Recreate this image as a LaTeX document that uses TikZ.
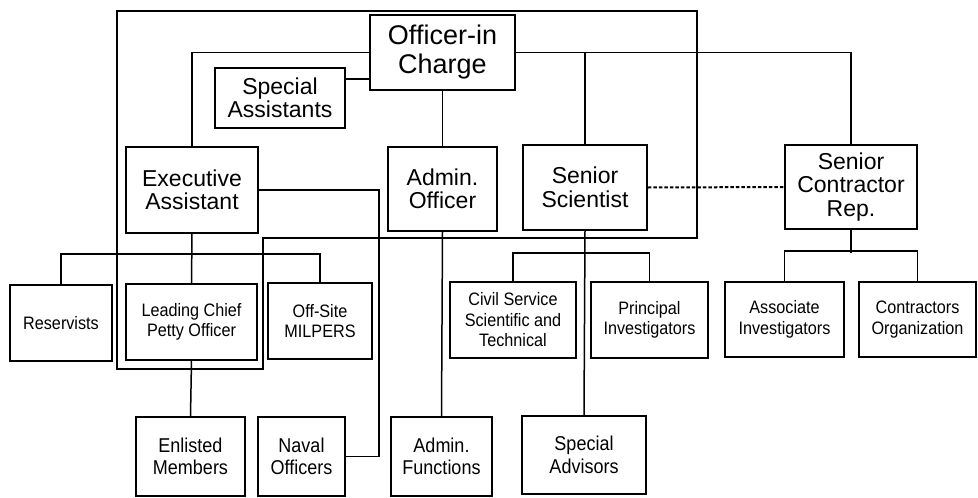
\documentclass[tikz,border=0pt]{standalone}
\usepackage{fontspec}
\setmainfont{Liberation Sans}
\newfontfamily\narrowf{Liberation Sans}[FakeStretch=0.9]
\begin{document}
\begin{tikzpicture}[x=1pt,y=-1pt,
  box/.style={draw, line width=1.6pt, inner sep=0pt, align=center},
  big/.style={font=\fontsize{27}{29}\selectfont},
  mid/.style={font=\fontsize{23}{23.5}\selectfont},
  sml/.style={font=\narrowf\fontsize{18}{20.5}\selectfont},
  bot/.style={font=\narrowf\fontsize{20}{22.5}\selectfont},
  conn/.style={line width=1.5pt},
  dotconn/.style={line width=2pt, dash pattern=on 3.5pt off 2pt}]
\useasboundingbox (0,0) rectangle (978,498);
% nodes
\node[box,big,minimum width=145pt,minimum height=75pt] (oic) at (442.5,52.5) {Officer-in\\Charge};
\node[box,mid,minimum width=130pt,minimum height=60pt] (sa) at (280,98) {Special\\Assistants};
\node[box,mid,minimum width=132pt,minimum height=86pt] (ea) at (192,190) {Executive\\Assistant};
\node[box,mid,minimum width=109pt,minimum height=84pt] (ao) at (442.5,189) {Admin.\\Officer};
\node[box,mid,minimum width=124pt,minimum height=85pt] (ss) at (585,187.5) {Senior\\Scientist};
\node[box,mid,minimum width=132pt,minimum height=84pt] (scr) at (851,187) {Senior\\Contractor\\Rep.};
\node[box,sml,minimum width=102pt,minimum height=76pt] (res) at (61,323) {Reservists};
\node[box,sml,minimum width=131pt,minimum height=76pt] (lcpo) at (191.5,322) {Leading Chief\\Petty Officer};
\node[box,sml,minimum width=104pt,minimum height=76pt] (mil) at (320,321) {Off-Site\\MILPERS};
\node[box,sml,minimum width=126pt,minimum height=76pt] (civ) at (513,320) {Civil Service\\Scientific and\\Technical};
\node[box,sml,minimum width=117pt,minimum height=76pt] (pi) at (649.5,320) {Principal\\Investigators};
\node[box,sml,minimum width=119pt,minimum height=75pt] (ai) at (784.5,319.5) {Associate\\Investigators};
\node[box,sml,minimum width=117pt,minimum height=75pt] (co) at (917.5,319.5) {Contractors\\Organization};
\node[box,bot,minimum width=109pt,minimum height=79pt] (em) at (190.5,456.5) {Enlisted\\Members};
\node[box,bot,minimum width=87pt,minimum height=79pt] (no) at (301.5,456.5) {Naval\\Officers};
\node[box,bot,minimum width=101pt,minimum height=79pt] (af) at (441.5,456.5) {Admin.\\Functions};
\node[box,bot,minimum width=124pt,minimum height=78pt] (sad) at (584,455) {Special\\Advisors};
% frame
\draw[conn] (117,11) -- (697,11) -- (697,238) -- (263,238) -- (263,369) -- (117,369) -- cycle;
% connectors
\draw[conn] (oic.west) -| (ea.north);
\draw[conn] (sa.east |- 0,79) -- (oic.west |- 0,79);
\draw[conn] (oic.south) -- (ao.north);
\draw[conn] (oic.east) -| (scr.north);
\draw[conn] (ss.north) -- (ss.north |- oic.east);
\draw[dotconn] (ss.east) -- (scr.west);
\draw[conn] (ea.east) -- ++(120,0) |- (no.east);
\draw[conn] (ea.south) -- (lcpo.north);
\draw[conn] (res.north) -- ++(0,-30) -| (mil.north);
\draw[conn] (lcpo.south) -- (em.north);
\draw[conn] (ao.south) -- (af.north);
\draw[conn] (ss.south) -- (sad.north);
\draw[conn] (civ.north) -- ++(0,-28) -| (pi.north);
\draw[conn] (scr.south) -- ++(0,23.5);
\draw[conn] (ai.north) -- ++(0,-30) -| (co.north);
\end{tikzpicture}
\end{document}
